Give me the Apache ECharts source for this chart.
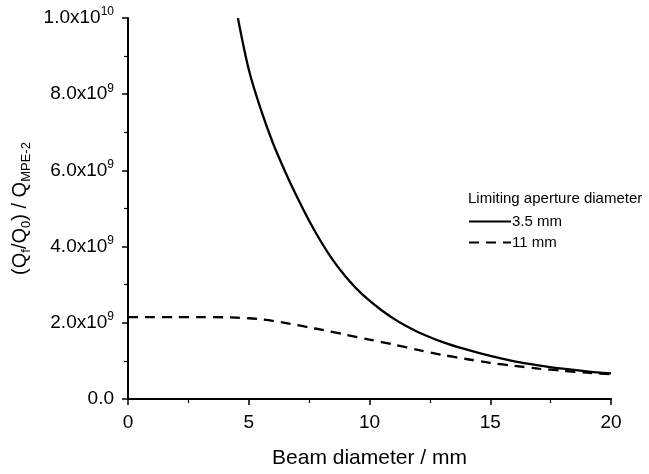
<!DOCTYPE html>
<html><head><meta charset="utf-8">
<script src="https://cdn.jsdelivr.net/npm/echarts@6.0.0/dist/echarts.min.js"></script>
<style>html,body{margin:0;padding:0;background:#fff}#c{width:649px;height:474px}</style>
</head><body><div id="c"></div>
<script>
// Limiting aperture 3.5 mm (solid)
const beamDiameter35 = [4.55, 5.0, 5.5, 6.0, 6.5, 7.0, 7.5, 8.0, 8.5, 9.0, 9.5, 10, 10.5, 11, 11.5, 12, 13, 14, 15, 16, 17, 18, 19, 20];
const ratio35 = [10.0e9, 8.65e9, 7.6e9, 6.72e9, 5.98e9, 5.3e9, 4.68e9, 4.12e9, 3.63e9, 3.22e9, 2.87e9, 2.58e9, 2.33e9, 2.11e9, 1.92e9, 1.76e9, 1.50e9, 1.30e9, 1.13e9, 0.99e9, 0.885e9, 0.795e9, 0.725e9, 0.67e9];
// Limiting aperture 11 mm (dashed)
const beamDiameter11 = [0, 1, 2, 3, 4, 4.5, 5, 5.5, 6, 6.5, 7, 7.5, 8, 9, 10, 11, 12, 13, 14, 15, 16, 17, 18, 19, 20];
const ratio11 = [2.15e9, 2.15e9, 2.15e9, 2.15e9, 2.145e9, 2.135e9, 2.12e9, 2.09e9, 2.05e9, 2.0e9, 1.94e9, 1.88e9, 1.82e9, 1.69e9, 1.56e9, 1.43e9, 1.29e9, 1.16e9, 1.05e9, 0.95e9, 0.87e9, 0.80e9, 0.74e9, 0.69e9, 0.65e9];
const seriesNames = ['3.5 mm', '11 mm'];
const legendTitle = 'Limiting aperture diameter';
const xAxisTitle = 'Beam diameter / mm';

const chart = echarts.init(document.getElementById('c'), null, {renderer: 'canvas'});
const FONT = 'Liberation Sans, Arial, sans-serif';
const axisLine = {show: true, lineStyle: {color: '#000', width: 2}};
chart.setOption({
  animation: false,
  backgroundColor: '#fff',
  textStyle: {fontFamily: FONT, color: '#000'},
  grid: {left: 128, right: 38, top: 18, bottom: 69, containLabel: false},
  graphic: [{
    type: 'text', left: 468, top: 191,
    style: {text: legendTitle, font: '15px ' + FONT, fill: '#000'}
  }],
  legend: {
    orient: 'vertical', left: 463, top: 209, itemWidth: 42, itemHeight: 10, itemGap: 6,
    itemStyle: {opacity: 0},
    textStyle: {fontSize: 15, color: '#000', fontFamily: FONT, padding: [0,0,0,-4]},
    data: seriesNames
  },
  xAxis: {
    type: 'value', min: 0, max: 20, interval: 5,
    name: xAxisTitle, nameLocation: 'middle', nameGap: 49,
    nameTextStyle: {fontSize: 21, color: '#000', fontFamily: FONT},
    axisLine: axisLine,
    axisTick: {show: true, length: 6, lineStyle: {color: '#000', width: 1.5}},
    minorTick: {show: true, splitNumber: 2, length: 4, lineStyle: {color: '#000', width: 1.2}},
    axisLabel: {fontSize: 19, color: '#000', margin: 14, fontFamily: FONT},
    splitLine: {show: false}
  },
  yAxis: {
    type: 'value', min: 0, max: 1e10, interval: 2e9,
    name: '{n|(Q}{sub|f}{n|/Q}{sub|0}{n|) / Q}{sub|MPE-2}',
    nameLocation: 'middle', nameGap: 95, nameRotate: 90,
    nameTextStyle: {
      fontFamily: FONT, color: '#000',
      rich: {
        n: {fontSize: 20, lineHeight: 25, fontFamily: FONT, color: '#000'},
        sub: {fontSize: 13, verticalAlign: 'bottom', fontFamily: FONT, color: '#000'}
      }
    },
    axisLine: axisLine,
    axisTick: {show: true, length: 6, lineStyle: {color: '#000', width: 1.5}},
    minorTick: {show: true, splitNumber: 2, length: 4, lineStyle: {color: '#000', width: 1.2}},
    axisLabel: {
      margin: 14, fontFamily: FONT,
      formatter: function (v) {
        if (v === 0) return '{m|0.0}';
        const e = Math.floor(Math.log10(v) + 1e-9);
        const m = (v / Math.pow(10, e)).toFixed(1);
        return '{m|' + m + 'x10}{s|' + e + '}';
      },
      rich: {
        m: {fontSize: 19, lineHeight: 24, color: '#000', fontFamily: FONT},
        s: {fontSize: 12, verticalAlign: 'top', color: '#000', fontFamily: FONT}
      }
    },
    splitLine: {show: false}
  },
  series: [{
    name: seriesNames[0], type: 'line', showSymbol: false, symbol: 'none', smooth: 0.3,
    data: beamDiameter35.map((x, i) => [x, ratio35[i]]),
    lineStyle: {color: '#000', width: 2.3, type: 'solid'}, itemStyle: {color: '#000'}
  }, {
    name: seriesNames[1], type: 'line', showSymbol: false, symbol: 'none', smooth: 0.3,
    data: beamDiameter11.map((x, i) => [x, ratio11[i]]),
    lineStyle: {color: '#000', width: 2.3, type: [10, 7]}, itemStyle: {color: '#000'}
  }]
});
</script></body></html>
